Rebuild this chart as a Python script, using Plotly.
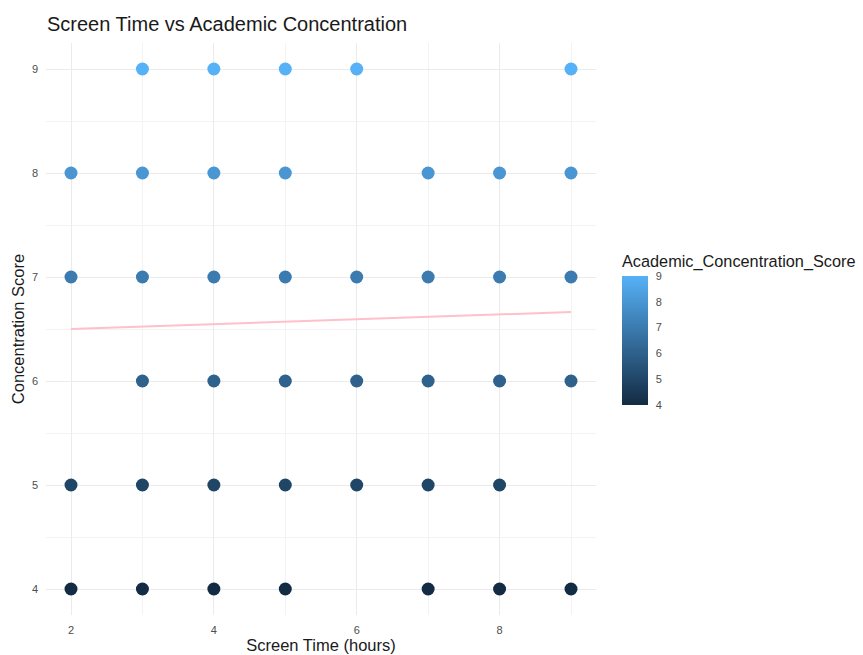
import plotly.graph_objects as go

# Data: screen time (hours) and concentration score
screen_9 = [3, 4, 5, 6, 9]
screen_8 = [2, 3, 4, 5, 7, 8, 9]
screen_7 = [2, 3, 4, 5, 6, 7, 8, 9]
screen_6 = [3, 4, 5, 6, 7, 8, 9]
screen_5 = [2, 3, 4, 5, 6, 7, 8]
screen_4 = [2, 3, 4, 5, 7, 8, 9]
score_levels = [9, 8, 7, 6, 5, 4]

trend_x = [2, 9]
trend_y = [6.50, 6.663]

x_ticks = [2, 4, 6, 8]
y_ticks = [4, 5, 6, 7, 8, 9]

xs, ys = [], []
for lvl, row in zip(score_levels, [screen_9, screen_8, screen_7, screen_6, screen_5, screen_4]):
    xs += row
    ys += [lvl] * len(row)

W, H = 863, 655
L, R, T, B = 46, 596, 43, 615

fig = go.Figure()
fig.add_trace(go.Scatter(
    x=trend_x, y=trend_y, mode="lines",
    line=dict(color="#FFC0CB", width=2), showlegend=False, hoverinfo="skip"))
fig.add_trace(go.Scatter(
    x=xs, y=ys, mode="markers",
    marker=dict(
        size=13, color=ys, cmin=4, cmax=9,
        colorscale=[[0, "#132B43"], [1, "#56B1F7"]],
        line=dict(width=0),
        colorbar=dict(
            title=dict(text="Academic_Concentration_Score", side="top",
                       font=dict(size=16.3, color="#1a1a1a")),
            thickness=26, thicknessmode="pixels",
            len=153, lenmode="pixels",
            x=(622 - L) / (R - L), xanchor="left", xref="paper",
            y=(B - 405) / (B - T), yanchor="bottom", yref="paper",
            tickvals=y_ticks, ticks="outside", ticklen=6, tickcolor="rgba(0,0,0,0)",
            tickfont=dict(size=11, color="#4D4D4D"),
            outlinewidth=0, borderwidth=0, xpad=0, ypad=0,
        ),
    ),
    showlegend=False))

fig.update_layout(
    width=W, height=H,
    margin=dict(l=L, r=W - R, t=T, b=H - B, pad=0, autoexpand=False),
    paper_bgcolor="white", plot_bgcolor="white",
    font=dict(family="Liberation Sans, Arial, sans-serif", color="#1a1a1a"),
    title=dict(text="Screen Time vs Academic Concentration",
               x=47 / W, xref="container", xanchor="left",
               y=1 - 24 / H, yref="container", yanchor="middle",
               font=dict(size=20, color="#1a1a1a")),
    xaxis=dict(
        range=[1.65, 9.35], tickvals=x_ticks, showline=False, zeroline=False,
        automargin=False,
        gridcolor="#EBEBEB", gridwidth=1.2,
        minor=dict(tickvals=[3, 5, 7, 9], showgrid=True, gridcolor="#F3F3F3", gridwidth=0.7),
        tickfont=dict(size=11, color="#4D4D4D"), ticks="", ticklabelstandoff=7,
        title=dict(text="Screen Time (hours)", font=dict(size=16.5, color="#1a1a1a"), standoff=2),
    ),
    yaxis=dict(
        range=[3.75, 9.25], tickvals=y_ticks, showline=False, zeroline=False,
        automargin=False,
        gridcolor="#EBEBEB", gridwidth=1.2,
        minor=dict(tickvals=[4.5, 5.5, 6.5, 7.5, 8.5], showgrid=True, gridcolor="#F3F3F3", gridwidth=0.7),
        tickfont=dict(size=11, color="#4D4D4D"), ticks="", ticklabelstandoff=7,
        title=dict(text="Concentration Score", font=dict(size=16.5, color="#1a1a1a"), standoff=3),
    ),
)

fig.write_html("out.html", config={"displayModeBar": False},
               post_script="document.body.style.margin='0';document.body.style.overflow='hidden';")
